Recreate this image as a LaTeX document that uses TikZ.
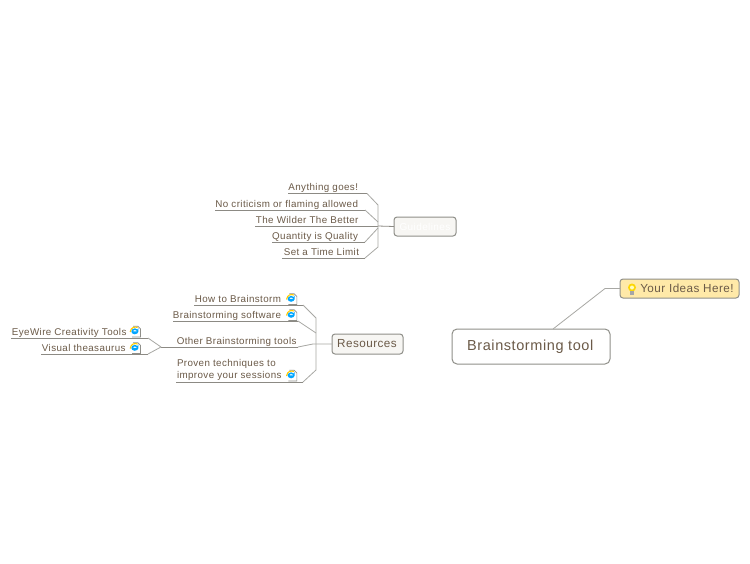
\documentclass[tikz,border=0pt]{standalone}
\usepackage{fontspec}
\setmainfont{Liberation Sans}[LetterSpace=4]
\definecolor{txt}{HTML}{6B5A48}
\definecolor{edge}{HTML}{8C8A84}
\definecolor{spine}{HTML}{A8A8A4}
\definecolor{boxline}{HTML}{8F8F89}
\definecolor{boxfill}{HTML}{F7F6F3}
\definecolor{idea}{HTML}{FFE9A8}
\newcommand\lf[2]{\makebox[#1pt][r]{#2}}
\tikzset{
  x=1pt,y=-1pt,
  leaf/.style={anchor=south west,inner xsep=0pt,inner ysep=1pt,outer sep=0pt,text depth=2pt,text=txt,font=\fontsize{9.8}{12}\selectfont},
  under/.style={draw=edge,line width=0.8pt},
  branch/.style={draw=spine,line width=0.8pt,line join=round},
  mainbox/.style={draw=boxline,rounded corners=5pt,line width=1pt,outer sep=0pt,inner sep=0pt,text=txt},
  iepage/.pic={
    \fill[white] (-5,-5) rectangle (5.5,5.5);
    \draw[draw=boxline,line width=0.6pt] (-2,-5.3) -- (2.8,-5.3) -- (5.5,-2.6) -- (5.5,5.5) -- (-3,5.5);
    \draw[draw=orange!40!yellow,line width=1.1pt] (-4.8,0.5) .. controls (-4,-4.6) and (0,-5) .. (2.6,-4);
    \draw[draw=blue!35!cyan,line width=1.5pt] (2.6,0.7) -- (-2.8,0.7) (-3,-0.4) arc (180:0:2.8 and 2.4) -- (2.6,0.7) (-3,0.6) arc (180:320:2.9 and 3);
  },
}
\begin{document}
\begin{tikzpicture}
\useasboundingbox[fill=white] (0,0) rectangle (750,563);
% main nodes
\node[mainbox,minimum width=158,minimum height=35,fill=white,font=\fontsize{14.5}{16}\selectfont] (root) at (531,346.5) {\hspace*{-1.5pt}\raisebox{-1.5pt}{Brainstorming tool}};
\node[mainbox,minimum width=119,minimum height=19,fill=idea,rounded corners=3pt,font=\fontsize{11.7}{14}\selectfont] (ideas) at (679.5,288.5) {\hspace*{15pt}Your Ideas Here!};
\node[mainbox,minimum width=71,minimum height=20,fill=boxfill,rounded corners=3pt,font=\fontsize{11.7}{14}\selectfont] (res) at (367.5,344) {\hspace*{-1pt}Resources};
\node[mainbox,minimum width=62,minimum height=19,fill=boxfill,rounded corners=3pt,font=\fontsize{10}{12}\selectfont,text=white] (guide) at (425,226.5) {Guidelines};
% bulb
\fill[yellow!75!orange] (632,287.5) circle (4);
\fill[yellow!25] (632,287.5) circle (2);
\fill[gray!70] (630.3,291) rectangle (633.7,294.5);
% root link
\coordinate (k1) at (605,288.5);
\draw[branch] (root.north) ++(22,0) coordinate (r1) -- (k1) -- (ideas.west);
% guidelines leaves
\node[leaf] (g1) at (288,193.5) {\lf{70}{Anything goes!}};
\node[leaf] (g2) at (215,210) {\lf{143}{No criticism or flaming allowed}};
\node[leaf] (g3) at (255,226) {\lf{103.5}{The Wilder The Better}};
\node[leaf] (g4) at (272,242) {\lf{86}{Quantity is Quality}};
\node[leaf] (g5) at (282,258) {\lf{77}{Set a Time Limit}};
\coordinate (g1e) at (367,193.5);
\coordinate (g2e) at (365,210);
\coordinate (g3e) at (378,226);
\coordinate (g4e) at (365,242);
\coordinate (g5e) at (365,258);
\coordinate (gsT) at (378,205);
\coordinate (gsB) at (378,247);
\coordinate (gs2) at (378,222);
\coordinate (gs4) at (378,228);
\draw[under] (g1.south west) -- (g1e);
\draw[under] (g2.south west) -- (g2e);
\draw[under] (g3.south west) -- (g3e);
\draw[under] (g4.south west) -- (g4e);
\draw[under] (g5.south west) -- (g5e);
\draw[branch] (g1e) -- (gsT) -- (gsB) -- (g5e);
\draw[branch] (g2e) -- (gs2);
\draw[branch] (g4e) -- (gs4);
\draw[under] (g3e) -- (guide.west);
% resources leaves
\node[leaf] (r1a) at (194,305) {\lf{87}{How to Brainstorm}};
\node[leaf] (r2a) at (173,321) {\lf{108}{Brainstorming software}};
\node[leaf] (r3a) at (161,347) {\lf{135.5}{Other Brainstorming tools}};
\node[leaf,align=left,inner ysep=1pt,text depth=] (r4a) at (176,382) {\hspace*{1pt}Proven techniques to\\\hspace*{1pt}improve your sessions};
\coordinate (r4e) at (303,382);
\coordinate (r1e) at (303,305);
\coordinate (r2e) at (298,321);
\coordinate (r3e) at (298,347);
\coordinate (rsT) at (316,318);
\coordinate (rsB) at (316,370);
\coordinate (rs2) at (316,333);
\coordinate (rs3) at (313,344);
\draw[under] (r1a.south west) -- (r1e);
\draw[under] (r2a.south west) -- (r2e);
\draw[under] (r3a.south west) -- (r3e);
\draw[under] (r4a.south west) -- (r4e);
\draw[branch] (r1e) -- (rsT) -- (rsB) -- (r4e);
\draw[branch] (r2e) -- (rs2);
\draw[branch] (r3e) -- (rs3) -- (res.west);
% sub leaves
\node[leaf] (s1) at (11,338) {\hspace*{1pt}EyeWire Creativity Tools};
\node[leaf] (s2) at (41,354) {\hspace*{1pt}Visual theasaurus};
\coordinate (s1e) at (148,338);
\coordinate (s2e) at (148,354);
\draw[under] (s1.south west) -- (s1e);
\draw[under] (s2.south west) -- (s2e);
\draw[branch] (s1e) -- (r3a.south west) -- (s2e);
% icons
\pic at (291.3,299) {iepage};
\pic at (291.3,315) {iepage};
\pic at (291.3,375.5) {iepage};
\pic at (135,331.5) {iepage};
\pic at (135,348) {iepage};
\end{tikzpicture}
\end{document}
